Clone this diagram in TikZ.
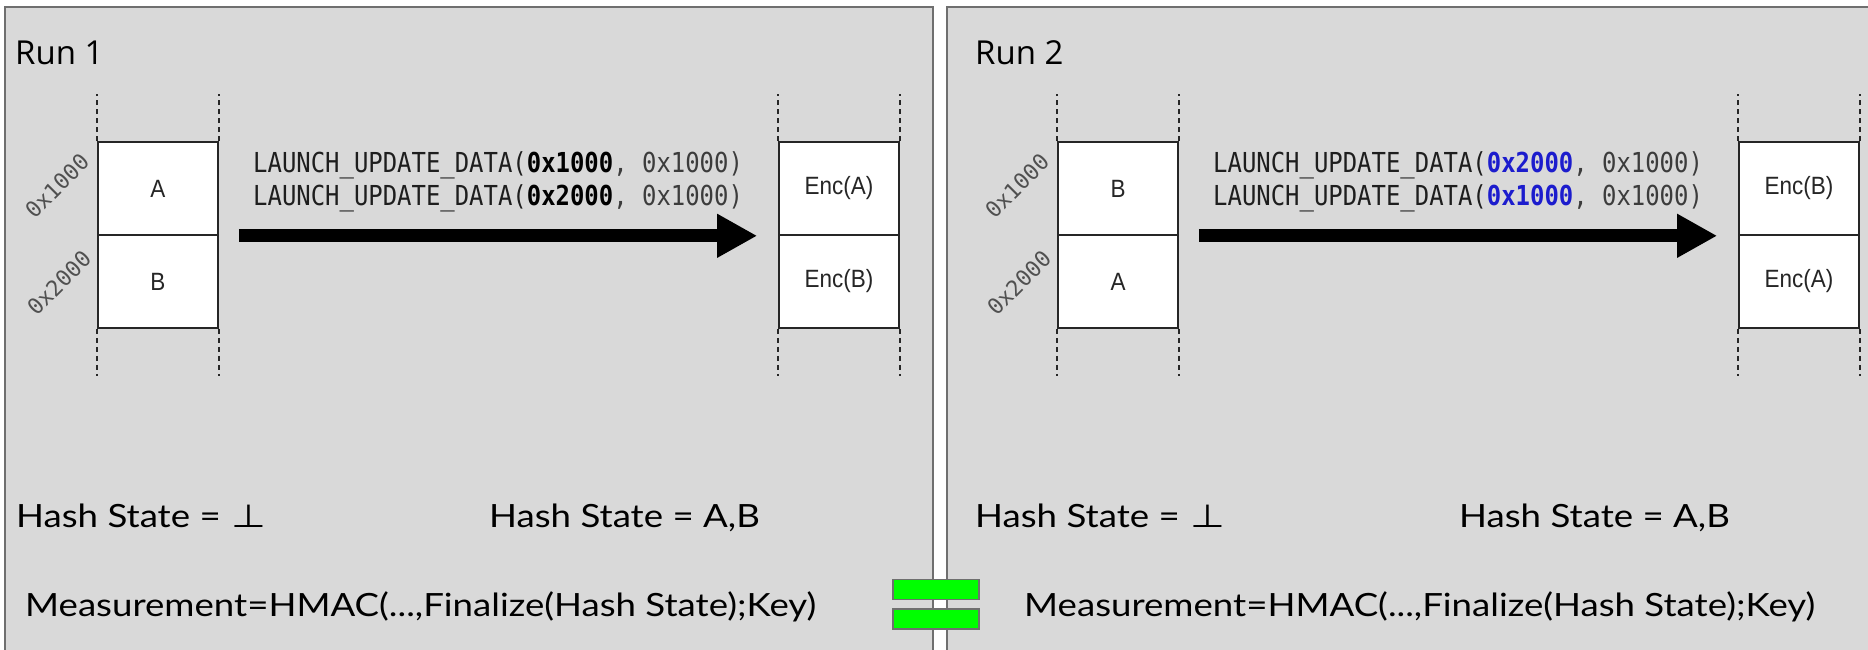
\documentclass[tikz,border=0pt]{standalone}
\usepackage{fontspec}
\setmainfont{Lato}
\newfontfamily\statefont[FakeStretch=1.145]{Lato}
\newfontfamily\runfont{Open Sans}
\newfontfamily\codefont[FakeStretch=0.87]{DejaVu Sans Mono}
\newfontfamily\addrfont{DejaVu Sans Mono}
\newfontfamily\cellfont[FakeStretch=0.9]{Liberation Sans}
\newfontfamily\symbfont[FakeStretch=1.25]{DejaVu Sans}
\usetikzlibrary{arrows.meta}

\definecolor{panelfill}{HTML}{D9D9D9}
\definecolor{panelline}{HTML}{6F6F6F}
\definecolor{codegray}{HTML}{3C3C3C}
\definecolor{codedark}{HTML}{1E1E1E}
\definecolor{addrgray}{HTML}{505050}
\definecolor{swapblue}{RGB}{28,28,205}
\definecolor{eqgreen}{HTML}{00FF00}

\newcommand{\bottomsym}{\hspace*{1pt}{\symbfont ⊥}}

\tikzset{
  panel/.style={fill=panelfill, draw=panelline, line width=2pt},
  cell/.style={draw=black!85, fill=white, line width=1.6pt, minimum width=120pt,
    minimum height=93pt, inner sep=0pt, text=black!85,
    font=\cellfont\fontsize{25}{29}\selectfont},
  guide/.style={draw=black!85, line width=1.6pt, dash pattern=on 5pt off 4pt},
  addr/.style={rotate=45, inner sep=0pt, text=addrgray,
    font=\addrfont\fontsize{22}{26}\selectfont},
  runlabel/.style={anchor=base west, inner sep=0pt, font=\runfont\fontsize{33}{40}\selectfont},
  statelabel/.style={anchor=base west, inner sep=0pt, font=\statefont\fontsize{32}{36}\selectfont},
  launchtext/.style={anchor=base west, inner sep=0pt, text=codedark,
    font=\codefont\fontsize{27.5}{32}\selectfont},
  bigarrow/.style={line width=13pt, -{Triangle[length=40pt,width=41pt]}},
  eqbar/.style={fill=eqgreen, draw=panelline, line width=1.5pt, minimum width=86pt,
    minimum height=20pt, inner sep=0pt},
}

\begin{document}
\begin{tikzpicture}[x=1pt, y=-1pt]
\useasboundingbox (0,0) rectangle (1868,650);
\clip (0,0) rectangle (1868,650);
\fill[white] (0,0) rectangle (1868,650);

% the two run panels
\draw[panel] (5,7.5) rectangle (932.5,700);
\draw[panel] (946.5,7.5) rectangle (1900,700);

% ---------- Run 1 ----------
\node[runlabel] (run1) at (15,65) {Run 1};

\node[cell] (l1) at (158,188.5) {A};
\node[cell] (l2) at (158,281.5) {B};
\draw[guide] (l1.north west) -- ++(0,-47);
\draw[guide] (l1.north east) -- ++(0,-47);
\draw[guide] (l2.south west) -- ++(0,47);
\draw[guide] (l2.south east) -- ++(0,47);
\node[addr] (la1) at (57,186) {0x1000};
\node[addr] (la2) at (59,283) {0x2000};

\node[cell] (e1) at (839,188.5) {Enc(A)};
\node[cell] (e2) at (839,281.5) {Enc(B)};
\draw[guide] (e1.north west) -- ++(0,-47);
\draw[guide] (e1.north east) -- ++(0,-47);
\draw[guide] (e2.south west) -- ++(0,47);
\draw[guide] (e2.south east) -- ++(0,47);

\node[launchtext] (c1) at (253,172)
  {LAUNCH\_UPDATE\_DATA(\textbf{\color{black}0x1000}\textcolor{codegray}{, 0x1000)}};
\node[launchtext] (c2) at (253,205)
  {LAUNCH\_UPDATE\_DATA(\textbf{\color{black}0x2000}\textcolor{codegray}{, 0x1000)}};
\draw[bigarrow] ([xshift=20pt]l1.south east) -- ([xshift=-21pt]e1.south west);

\node[statelabel] (h1) at (16,527) {Hash State = \bottomsym};
\node[statelabel] (h2) at (489,527) {Hash State = A,B};
\node[statelabel] (m1) at (25,616) {Measurement=HMAC(...,Finalize(Hash State);Key)};

% ---------- Run 2 ----------
\node[runlabel] (run2) at (975,65) {Run 2};

\node[cell] (r1) at (1118,188.5) {B};
\node[cell] (r2) at (1118,281.5) {A};
\draw[guide] (r1.north west) -- ++(0,-47);
\draw[guide] (r1.north east) -- ++(0,-47);
\draw[guide] (r2.south west) -- ++(0,47);
\draw[guide] (r2.south east) -- ++(0,47);
\node[addr] (ra1) at (1017,186) {0x1000};
\node[addr] (ra2) at (1019,283) {0x2000};

\node[cell] (f1) at (1799,188.5) {Enc(B)};
\node[cell] (f2) at (1799,281.5) {Enc(A)};
\draw[guide] (f1.north west) -- ++(0,-47);
\draw[guide] (f1.north east) -- ++(0,-47);
\draw[guide] (f2.south west) -- ++(0,47);
\draw[guide] (f2.south east) -- ++(0,47);

\node[launchtext] (d1) at (1213,172)
  {LAUNCH\_UPDATE\_DATA(\textbf{\color{swapblue}0x2000}\textcolor{codegray}{, 0x1000)}};
\node[launchtext] (d2) at (1213,205)
  {LAUNCH\_UPDATE\_DATA(\textbf{\color{swapblue}0x1000}\textcolor{codegray}{, 0x1000)}};
\draw[bigarrow] ([xshift=20pt]r1.south east) -- ([xshift=-21pt]f1.south west);

\node[statelabel] (g1) at (975,527) {Hash State = \bottomsym};
\node[statelabel] (g2) at (1459,527) {Hash State = A,B};
\node[statelabel] (m2) at (1024,616) {Measurement=HMAC(...,Finalize(Hash State);Key)};

% equality mark between the two measurements
\node[eqbar] (eq1) at (936,589.5) {};
\node[eqbar] (eq2) at (936,619) {};
\end{tikzpicture}
\end{document}
